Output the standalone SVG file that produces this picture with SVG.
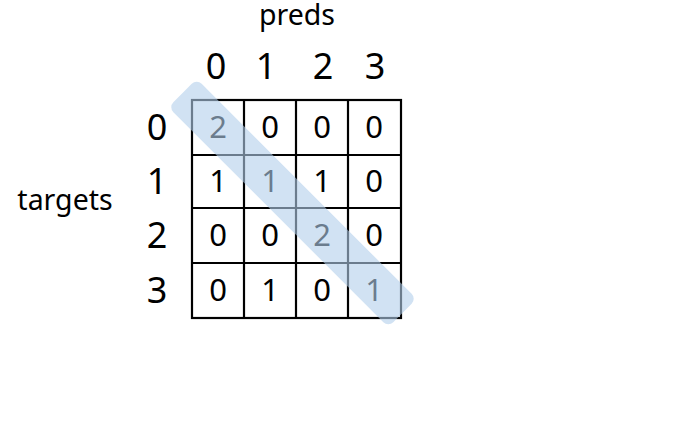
<svg xmlns="http://www.w3.org/2000/svg" width="699" height="429" viewBox="0 0 699 429">
<style>
text{font-family:"Noto Sans","Open Sans","DejaVu Sans",sans-serif;fill:#000;text-anchor:middle}
.lbl{font-size:28.5px}
.hd{font-size:36px}
.c{font-size:31px}
.grid line,.grid rect{stroke:#000;stroke-width:2.2;fill:none}
</style>
<rect width="699" height="429" fill="#fff"/>
<g id="title-preds"><text class="lbl" x="297" y="25">preds</text></g>
<g id="title-targets"><text class="lbl" x="65" y="210">targets</text></g>
<g id="col-headers">
<text class="hd" x="216" y="79">0</text>
<text class="hd" x="266" y="79">1</text>
<text class="hd" x="323" y="79">2</text>
<text class="hd" x="375" y="79">3</text>
</g>
<g id="row-headers">
<text class="hd" x="157" y="140">0</text>
<text class="hd" x="157" y="194">1</text>
<text class="hd" x="157" y="248">2</text>
<text class="hd" x="157" y="303">3</text>
</g>
<g id="matrix" class="grid">
<rect x="192" y="100" width="209" height="218"/>
<line x1="244" y1="100" x2="244" y2="318"/>
<line x1="296" y1="100" x2="296" y2="318"/>
<line x1="348" y1="100" x2="348" y2="318"/>
<line x1="192" y1="155" x2="401" y2="155"/>
<line x1="192" y1="208" x2="401" y2="208"/>
<line x1="192" y1="263" x2="401" y2="263"/>
</g>
<g id="cells">
<text class="c" x="218" y="138">2</text><text class="c" x="270" y="138">0</text><text class="c" x="322" y="138">0</text><text class="c" x="374" y="138">0</text>
<text class="c" x="218" y="192">1</text><text class="c" x="270" y="192">1</text><text class="c" x="322" y="192">1</text><text class="c" x="374" y="192">0</text>
<text class="c" x="218" y="246">0</text><text class="c" x="270" y="246">0</text><text class="c" x="322" y="246">2</text><text class="c" x="374" y="246">0</text>
<text class="c" x="218" y="301">0</text><text class="c" x="270" y="301">1</text><text class="c" x="322" y="301">0</text><text class="c" x="374" y="301">1</text>
</g>
<g id="diagonal-highlight">
<rect x="137" y="183" width="311" height="40" rx="7" fill="#b3cfeb" fill-opacity="0.6" transform="rotate(45 292.5 203)"/>
</g>
</svg>
